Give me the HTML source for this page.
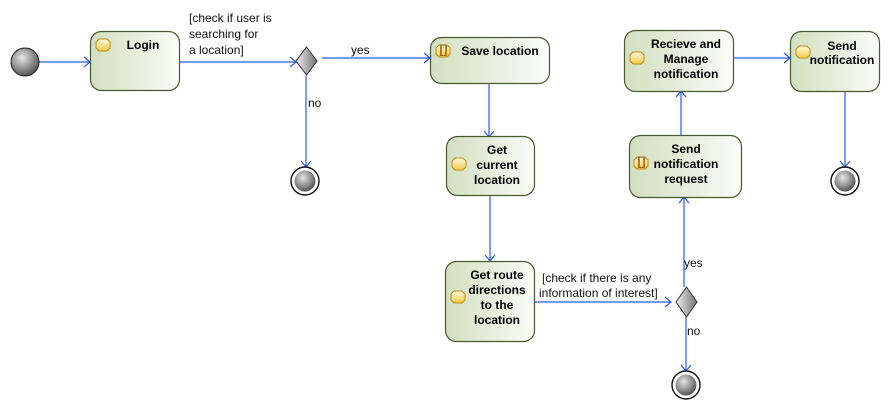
<!DOCTYPE html>
<html><head><meta charset="utf-8"><style>
html,body{margin:0;padding:0;background:#fff;width:890px;height:412px;overflow:hidden}
svg{display:block}
text{font-family:"Liberation Sans",Arial,sans-serif;font-size:12px}
.b{font-weight:bold;fill:#000}
.l{fill:#111}
</style></head><body>
<svg width="890" height="412" viewBox="0 0 890 412" xmlns="http://www.w3.org/2000/svg">
<defs>
<linearGradient id="g" x1="0" y1="0" x2="1" y2="0"><stop offset="0" stop-color="#d2dfc0"/><stop offset="1" stop-color="#fbfcf8"/></linearGradient>
<radialGradient id="ball" cx="0.4" cy="0.35" r="0.7"><stop offset="0" stop-color="#e6e6e6"/><stop offset="0.6" stop-color="#8a8a8a"/><stop offset="1" stop-color="#4a4a4a"/></radialGradient>
<linearGradient id="dm" x1="0" y1="0" x2="1" y2="0"><stop offset="0" stop-color="#f0f0f0"/><stop offset="1" stop-color="#707070"/></linearGradient>
<linearGradient id="ic" x1="0" y1="0" x2="0" y2="1"><stop offset="0" stop-color="#fffbe0"/><stop offset="1" stop-color="#f2c84a"/></linearGradient>
<symbol id="icon" viewBox="0 0 16 14"><path d="M4 1 H12 L15 4 V10 L12 13 H4 L1 10 V4 Z" fill="url(#ic)" stroke="#c08a10" stroke-width="1"/></symbol>
</defs>
<g fill="none" stroke="#2b5cf0" stroke-width="1.2">
<path d="M39 62 H90 M84 57 L90 62 L84 67"/>
<path d="M180 62 H296 M290 57 L296 62 L290 67"/>
<path d="M322 58 H430 M424 53 L430 58 L424 63"/>
<path d="M306 76 V167 M301 161 L306 167 L311 161"/>
<path d="M489 83 V137 M484 131 L489 137 L494 131"/>
<path d="M490 195 V261 M485 255 L490 261 L495 255"/>
<path d="M534 302 H671 M665 297 L671 302 L665 307"/>
<path d="M686 317 V371 M681 365 L686 371 L691 365"/>
<path d="M684 287 V197 M679 203 L684 197 L689 203"/>
<path d="M681 135 V91 M676 97 L681 91 L686 97"/>
<path d="M733 58 H790 M784 53 L790 58 L784 63"/>
<path d="M845 91 V167 M840 161 L845 167 L850 161"/>
</g>
<circle cx="25" cy="62" r="14" fill="url(#ball)" stroke="#222" stroke-width="1"/>
<g stroke="#4a5a30" stroke-width="1.2" fill="url(#g)">
<rect x="90.5" y="31.5" width="89" height="59" rx="11"/>
<rect x="430.5" y="37.5" width="119" height="46" rx="11"/>
<rect x="446.5" y="136.5" width="88" height="59" rx="11"/>
<rect x="445.5" y="261.5" width="89" height="80" rx="11"/>
<rect x="629.5" y="135.5" width="112" height="62" rx="11"/>
<rect x="624.5" y="30.5" width="109" height="61" rx="11"/>
<rect x="790.5" y="31.5" width="89" height="60" rx="11"/>
</g>
<use href="#icon" x="95" y="38" width="16" height="14"/>
<use href="#icon" x="435" y="44" width="16" height="14"/>
<use href="#icon" x="451" y="157" width="16" height="14"/>
<use href="#icon" x="450" y="290" width="16" height="14"/>
<use href="#icon" x="633" y="156" width="16" height="14"/>
<use href="#icon" x="629" y="51" width="16" height="14"/>
<use href="#icon" x="795" y="45" width="16" height="14"/>
<g font-size="6" fill="#a06000" font-family="Liberation Mono,monospace" font-weight="bold"><text x="439.5" y="53.5">[]</text><text x="637.5" y="165.5">[]</text></g>
<g class="b" text-anchor="middle">
<text x="143" y="49">Login</text>
<text x="500" y="55">Save location</text>
<text x="497" y="154">Get</text><text x="497" y="169">current</text><text x="497" y="184">location</text>
<text x="497" y="279">Get route</text><text x="497" y="294">directions</text><text x="497" y="309">to the</text><text x="497" y="324">location</text>
<text x="686" y="153">Send</text><text x="686" y="168">notification</text><text x="686" y="183">request</text>
<text x="686" y="48">Recieve and</text><text x="686" y="63">Manage</text><text x="686" y="78">notification</text>
<text x="842" y="50">Send</text><text x="842" y="64">notification</text>
</g>
<path d="M306.5 47 L317 61 L306.5 75 L296 61 Z" fill="url(#dm)" stroke="#333" stroke-width="1"/>
<path d="M686.5 287 L697 302 L686.5 317 L676 302 Z" fill="url(#dm)" stroke="#333" stroke-width="1"/>
<g>
<circle cx="305" cy="181" r="14" fill="#fff" stroke="#111" stroke-width="1.4"/><circle cx="305" cy="181" r="10.5" fill="url(#ball)"/>
<circle cx="686" cy="385" r="14" fill="#fff" stroke="#111" stroke-width="1.4"/><circle cx="686" cy="385" r="10.5" fill="url(#ball)"/>
<circle cx="845" cy="181" r="14" fill="#fff" stroke="#111" stroke-width="1.4"/><circle cx="845" cy="181" r="10.5" fill="url(#ball)"/>
</g>
<g class="l">
<text x="189" y="22">[check if user is</text>
<text x="189" y="38">searching for</text>
<text x="189" y="54">a location]</text>
<text x="351" y="54">yes</text>
<text x="308" y="107">no</text>
<text x="542" y="282">[check if there is  any</text>
<text x="539" y="297">information of interest]</text>
<text x="684" y="267">yes</text>
<text x="687" y="335">no</text>
</g>
</svg>
</body></html>
